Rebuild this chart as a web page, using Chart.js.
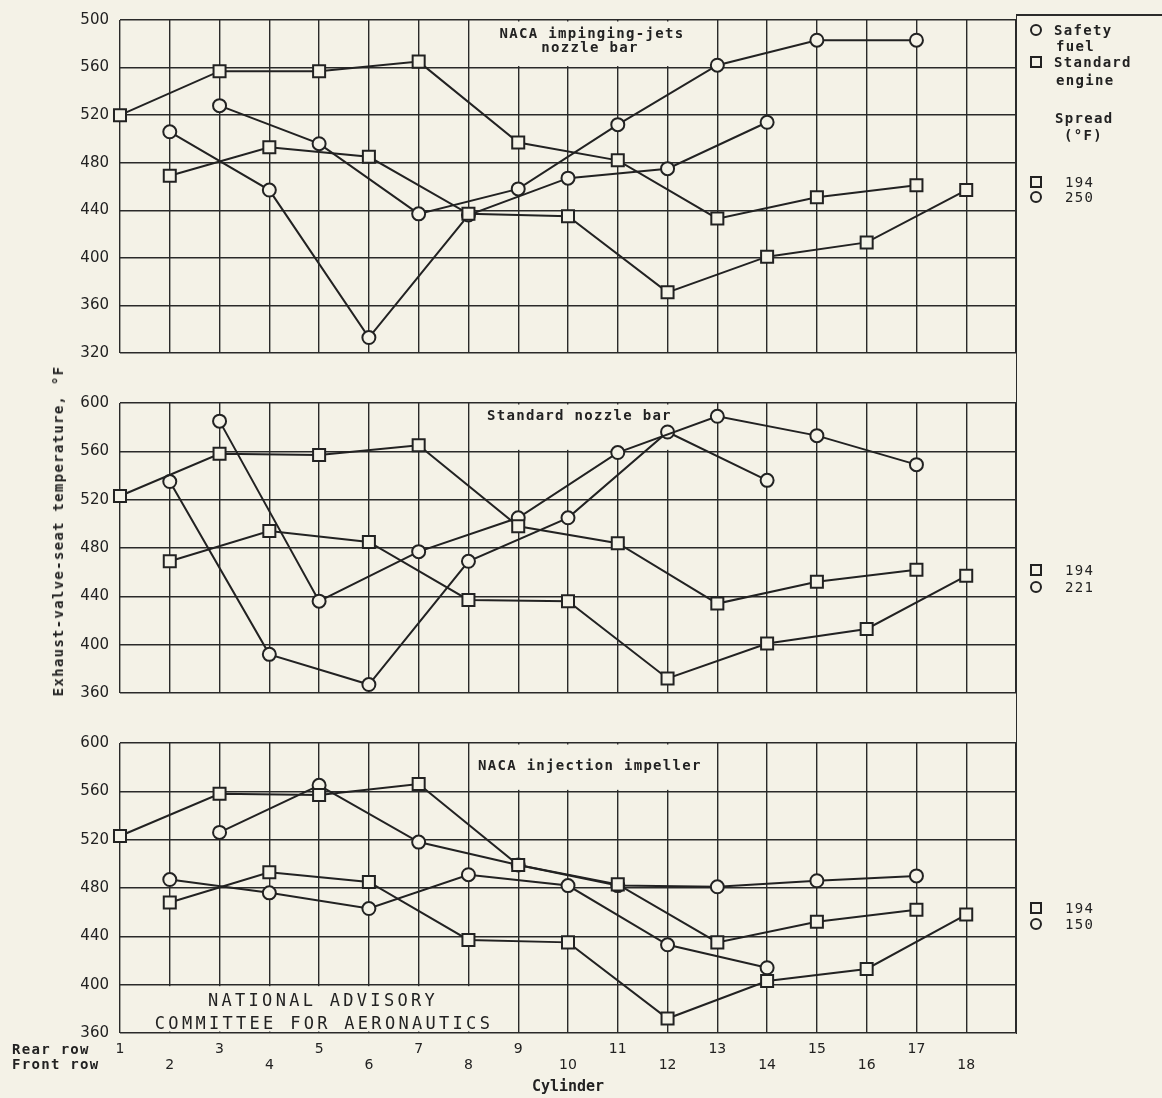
<!DOCTYPE html>
<html>
<head>
<meta charset="utf-8">
<script src="https://cdn.jsdelivr.net/npm/chart.js@4.4.1/dist/chart.umd.min.js"></script>
<style>
  html, body { margin: 0; padding: 0; background: #f4f2e7; }
  #page { position: relative; width: 1162px; height: 1098px; overflow: hidden; background: #f4f2e7; }
  canvas { position: absolute; left: 0; }
  .txt {
    position: absolute;
    font-family: "DejaVu Sans Mono", monospace;
    font-size: 14px;
    font-weight: bold;
    line-height: 16px;
    color: #222;
    letter-spacing: 1.3px;
    white-space: nowrap;
  }
  .mark { position: absolute; width: 12px; height: 12px; box-sizing: border-box; border: 2px solid #222; }
  .mark.circle { border-radius: 50%; }
  .rule { position: absolute; background: #2b2b2b; }
</style>
</head>
<body>
<div id="page">
  <canvas id="jetsChart" width="1162" height="380" style="top:0px"></canvas>
  <canvas id="stdChart" width="1162" height="340" style="top:380px"></canvas>
  <canvas id="impChart" width="1162" height="378" style="top:720px"></canvas>
</div>
<script>
const INK = "#222222";
const PAPER = "#f4f2e7";

// cylinders: rear row odd, front row even
const rearCylinders = [1, 3, 5, 7, 9, 11, 13, 15, 17];
const frontCylinders = [2, 4, 6, 8, 10, 12, 14, 16, 18];
const rearRowLabels = ["1", "3", "5", "7", "9", "11", "13", "15", "17"];
const frontRowLabels = ["2", "4", "6", "8", "10", "12", "14", "16", "18"];

// tick labels (top panel prints "500" at the top)
const topYLabels = ["320", "360", "400", "440", "480", "520", "560", "500"];
const lowYLabels = ["360", "400", "440", "480", "520", "560", "600"];

// NACA impinging-jets nozzle bar
const jetsStdRear = [520, 557, 557, 565, 497, 482, 433, 451, 461];
const jetsStdFront = [469, 493, 485, 437, 435, 371, 401, 413, 457];
const jetsSafeRear = [null, 528, 496, 437, 458, 512, 562, 583, 583];
const jetsSafeFront = [506, 457, 333, 436, 467, 475, 514, null, null];

// Standard nozzle bar
const stdStdRear = [523, 558, 557, 565, 498, 484, 434, 452, 462];
const stdStdFront = [469, 494, 485, 437, 436, 372, 401, 413, 457];
const stdSafeRear = [null, 585, 436, 477, 505, 559, 589, 573, 549];
const stdSafeFront = [535, 392, 367, 469, 505, 576, 536, null, null];

// NACA injection impeller
const impStdRear = [523, 558, 557, 566, 499, 483, 435, 452, 462];
const impStdFront = [468, 493, 485, 437, 435, 372, 403, 413, 458];
const impSafeRear = [null, 526, 565, 518, 499, 482, 481, 486, 490];
const impSafeFront = [487, 476, 463, 491, 482, 433, 414, null, null];

// spread (°F) per panel
const spreadStandard = [194, 194, 194];
const spreadSafety = [250, 221, 150];

function points(cyl, vals) {
  const out = [];
  cyl.forEach((c, i) => {
    if (vals[i] !== null) out.push({ x: c, y: vals[i] });
  });
  return out;
}

function series(cyl, vals, style) {
  return {
    data: points(cyl, vals),
    borderColor: INK,
    borderWidth: 2,
    pointStyle: style,
    pointRadius: style === "rect" ? 8.5 : 6.5,
    pointHoverRadius: style === "rect" ? 8.5 : 6.5,
    pointBorderColor: INK,
    pointBorderWidth: 2,
    pointBackgroundColor: PAPER,
    tension: 0,
    fill: false,
    clip: false
  };
}

// blank out the grid behind the lettering
const maskPlugin = {
  id: "mask",
  beforeDatasetsDraw(chart, args, opts) {
    const { ctx, scales: { x, y } } = chart;
    ctx.save();
    ctx.fillStyle = PAPER;
    (opts.boxes || []).forEach(b => {
      const l = x.getPixelForValue(b.x0) + 1.5;
      const r = x.getPixelForValue(b.x1) - 1.5;
      const t = y.getPixelForValue(b.y1) + 1.5;
      const bt = y.getPixelForValue(b.y0) - 1.5;
      ctx.fillRect(l, t, r - l, bt - t);
    });
    ctx.restore();
  }
};

function makeChart(id, cfg) {
  const ctx = document.getElementById(id).getContext("2d");
  return new Chart(ctx, {
    type: "line",
    data: { datasets: cfg.datasets },
    options: {
      responsive: false,
      animation: false,
      events: [],
      layout: { padding: { top: cfg.padTop, right: 146, left: 0, bottom: 0 } },
      plugins: {
        legend: { display: false },
        tooltip: { enabled: false },
        mask: { boxes: cfg.boxes }
      },
      scales: {
        x: {
          type: "linear",
          min: 1,
          max: 19,
          afterFit(scale) { scale.height = cfg.xHeight; },
          grid: { color: "#2a2a2a", lineWidth: 1.4, drawTicks: false },
          border: { display: false },
          ticks: {
            display: cfg.showX,
            stepSize: 1,
            autoSkip: false,
            maxRotation: 0,
            padding: 8,
            color: INK,
            font: { family: "DejaVu Sans", size: 14, lineHeight: 1.15 },
            callback(value) {
              const r = rearCylinders.indexOf(value);
              if (r >= 0) return [rearRowLabels[r], ""];
              const f = frontCylinders.indexOf(value);
              if (f >= 0) return ["", frontRowLabels[f]];
              return "";
            }
          },
          title: {
            display: cfg.showX,
            text: "Cylinder",
            color: INK,
            padding: { top: 0, bottom: 2 },
            font: { family: "DejaVu Sans Mono", size: 15, weight: "bold" }
          }
        },
        y: {
          min: cfg.yMin,
          max: cfg.yMax,
          afterFit(scale) { scale.width = 120; },
          grid: { color: "#2a2a2a", lineWidth: 1.4, drawTicks: false },
          border: { display: false },
          ticks: {
            stepSize: 40,
            padding: 11,
            color: INK,
            font: { family: "DejaVu Sans", size: 15 },
            callback(value) {
              return cfg.yLabels[Math.round((value - cfg.yMin) / 40)];
            }
          }
        }
      }
    },
    plugins: [maskPlugin]
  });
}

makeChart("jetsChart", {
  datasets: [
    series(rearCylinders, jetsStdRear, "rect"),
    series(frontCylinders, jetsStdFront, "rect"),
    series(rearCylinders, jetsSafeRear, "circle"),
    series(frontCylinders, jetsSafeFront, "circle")
  ],
  yMin: 320, yMax: 600, yLabels: topYLabels,
  padTop: 15, xHeight: 27, showX: false,
  boxes: [{ x0: 8, x1: 13, y0: 560, y1: 600 }]
});

makeChart("stdChart", {
  datasets: [
    series(rearCylinders, stdStdRear, "rect"),
    series(frontCylinders, stdStdFront, "rect"),
    series(rearCylinders, stdSafeRear, "circle"),
    series(frontCylinders, stdSafeFront, "circle")
  ],
  yMin: 360, yMax: 600, yLabels: lowYLabels,
  padTop: 23, xHeight: 27, showX: false,
  boxes: [{ x0: 8, x1: 13, y0: 560, y1: 600 }]
});

makeChart("impChart", {
  datasets: [
    series(rearCylinders, impStdRear, "rect"),
    series(frontCylinders, impStdFront, "rect"),
    series(rearCylinders, impSafeRear, "circle"),
    series(frontCylinders, impSafeFront, "circle")
  ],
  yMin: 360, yMax: 600, yLabels: lowYLabels,
  padTop: 23, xHeight: 65, showX: true,
  boxes: [{ x0: 8, x1: 13, y0: 560, y1: 600 }, { x0: 1, x1: 9, y0: 360, y1: 400 }]
});

// ---------- lettering ----------
const page = document.getElementById("page");

function label(text, x, y, opts = {}) {
  const d = document.createElement("div");
  d.className = "txt";
  d.textContent = text;
  d.style.left = x + "px";
  d.style.top = (y - 8) + "px";
  if (opts.size) {
    d.style.fontSize = opts.size + "px";
    d.style.lineHeight = "20px";
    d.style.top = (y - 10) + "px";
  }
  if (opts.weight) d.style.fontWeight = opts.weight;
  if (opts.spacing !== undefined) d.style.letterSpacing = opts.spacing + "px";
  if (opts.center) d.style.transform = "translateX(-50%)";
  page.appendChild(d);
  return d;
}

function mark(shape, cx, cy) {
  const d = document.createElement("div");
  d.className = "mark " + shape;
  d.style.left = (cx - 6) + "px";
  d.style.top = (cy - 6) + "px";
  page.appendChild(d);
}

function rule(x, y, w, h) {
  const d = document.createElement("div");
  d.className = "rule";
  d.style.left = x + "px";
  d.style.top = y + "px";
  d.style.width = w + "px";
  d.style.height = h + "px";
  page.appendChild(d);
}

// frame round the key
rule(1016, 14, 146, 1.5);
rule(1015.5, 14, 1.5, 1020);

// panel titles
label("NACA impinging-jets", 592, 33, { center: true });
label("nozzle bar", 590, 47, { center: true });
label("Standard nozzle bar", 487, 415);
label("NACA injection impeller", 478, 765);

label("NATIONAL ADVISORY", 323, 1000, { size: 17, spacing: 3.3, center: true, weight: "normal" });
label("COMMITTEE FOR AERONAUTICS", 324, 1023, { size: 17, spacing: 3.3, center: true, weight: "normal" });

label("Rear row", 12, 1049);
label("Front row", 12, 1064);

const yTitle = label("Exhaust-valve-seat temperature, °F", 58, 531);
yTitle.style.transform = "translate(-50%, 0) rotate(-90deg)";
yTitle.style.transformOrigin = "50% 50%";

// key
mark("circle", 1036, 30);
label("Safety", 1054, 30);
label("fuel", 1056, 46);
mark("square", 1036, 62);
label("Standard", 1054, 62);
label("engine", 1056, 80);
label("Spread", 1055, 118);
label("(°F)", 1064, 135);

const spreadRows = [[182, 197], [570, 587], [908, 924]];
spreadRows.forEach((row, i) => {
  mark("square", 1036, row[0]);
  label(String(spreadStandard[i]), 1065, row[0], { weight: "normal" });
  mark("circle", 1036, row[1]);
  label(String(spreadSafety[i]), 1065, row[1], { weight: "normal" });
});
</script>
</body>
</html>
